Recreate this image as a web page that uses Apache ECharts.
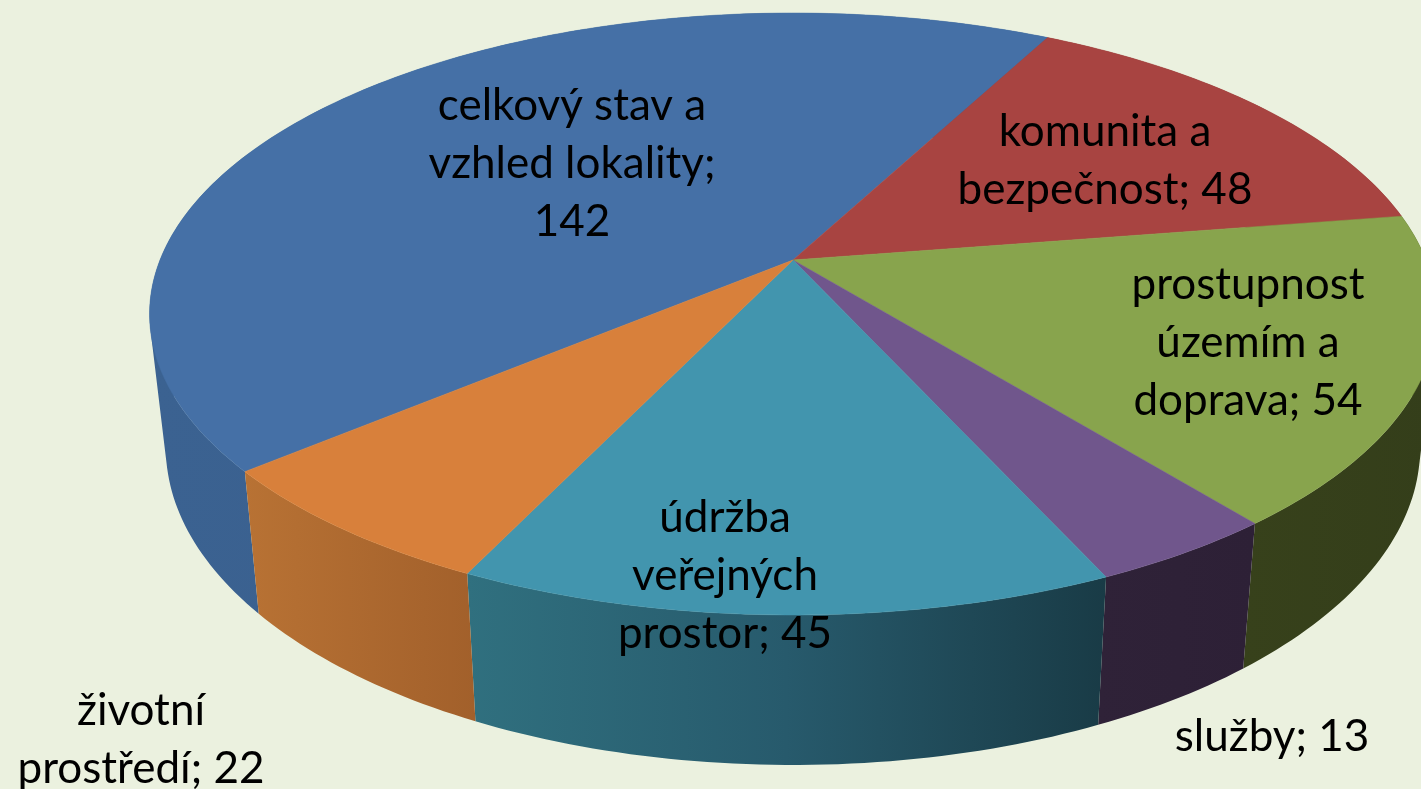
<!DOCTYPE html>
<html>
<head>
<meta charset="utf-8">
<style>
  html, body { margin: 0; padding: 0; background: #ebf1df; }
  #chart { width: 1421px; height: 789px; }
</style>
<script src="https://cdn.jsdelivr.net/npm/echarts@6/dist/echarts.min.js"></script>
</head>
<body>
<div id="chart"></div>
<script>
const categories = [
  'celkový stav a\nvzhled lokality',
  'komunita a\nbezpečnost',
  'prostupnost\núzemím a\ndoprava',
  'služby',
  'údržba\nveřejných\nprostor',
  'životní\nprostředí'
];
const values = [142, 48, 54, 13, 45, 22];
const topColors = ['#4570a6', '#a84441', '#88a44d', '#70568c', '#4295ae', '#d8803b'];
const sideStops = [
  ['#3b6291', '#385c8a'],
  ['#7a302e', '#7a302e'],
  ['#37411b', '#343e1a'],
  ['#2f2238', '#2d2036'],
  ['#30707f', '#275a6c', '#193b46'],
  ['#b87234', '#a2602b']
];
const labelCenters = [[572, 164], [1105, 161], [1248, 343], [1272, 737], [725, 576], [141, 740]];

// the pie is tilted, so the rim is a projected circle and not a plain ellipse
const perspective = 0.1794;
const topFace = { cx: 793, cy: 260, a: 633, b: 291.3 };
const bottomFace = { cx: 793, cy: 390.5, a: 617, b: 307.3 };
const startAngle = -130;
const total = values.reduce((s, v) => s + v, 0);

function project(face, deg) {
  const r = deg * Math.PI / 180;
  const w = 1 + perspective * Math.cos(r);
  return [face.cx + face.a * Math.sin(r) / w, face.cy - face.b * Math.cos(r) / w];
}

function sliceAngles(i) {
  let before = 0;
  for (let k = 0; k < i; k++) before += values[k];
  return [startAngle + before / total * 360, startAngle + (before + values[i]) / total * 360];
}

function arc(face, from, to) {
  const pts = [];
  const n = Math.ceil(to - from);
  for (let k = 0; k <= n; k++) pts.push(project(face, from + (to - from) * k / n));
  return pts;
}

function signedArea(q) {
  let s = 0;
  q.forEach((p, k) => {
    const n = q[(k + 1) % q.length];
    s += p[0] * n[1] - n[0] * p[1];
  });
  return s;
}

// side wall is one path of small quads, a plain outline would leave a notch at the silhouette.
// every quad gets the same winding or the nonzero fill cancels where the wall folds over
function renderSide(params) {
  const i = params.dataIndex;
  const [from, to] = sliceAngles(i);
  const upper = arc(topFace, from, to);
  const lower = arc(bottomFace, from, to);
  const xs = upper.concat(lower).map(p => p[0]);
  const stops = sideStops[i].map((c, k, all) => ({ offset: k / (all.length - 1), color: c }));
  let d = '';
  for (let k = 0; k < upper.length - 1; k++) {
    const q = [upper[k], upper[k + 1], lower[k + 1], lower[k]];
    if (signedArea(q) < 0) q.reverse();
    d += 'M' + q.map(p => p[0].toFixed(2) + ' ' + p[1].toFixed(2)).join('L') + 'Z';
  }
  return {
    type: 'path',
    shape: { pathData: d },
    style: {
      fill: new echarts.graphic.LinearGradient(Math.min(...xs), 0, Math.max(...xs), 0, stops, true)
    }
  };
}

function renderTop(params) {
  const i = params.dataIndex;
  const [from, to] = sliceAngles(i);
  return {
    type: 'polygon',
    shape: { points: [[topFace.cx, topFace.cy]].concat(arc(topFace, from, to)) },
    style: { fill: topColors[i], stroke: topColors[i], lineWidth: 0.5 }
  };
}

function renderLabel(params, api) {
  const i = params.dataIndex;
  const sep = i === 0 ? ';\n' : '; ';
  return {
    type: 'text',
    style: {
      x: labelCenters[i][0],
      y: labelCenters[i][1],
      text: categories[i] + sep + api.value(0),
      fill: '#000',
      font: '44px Lato',
      lineHeight: 58,
      align: 'center',
      verticalAlign: 'middle'
    }
  };
}

const chart = echarts.init(document.getElementById('chart'));
chart.setOption({
  backgroundColor: '#ebf1df',
  animation: false,
  series: [
    { type: 'custom', coordinateSystem: 'none', z: 1, silent: true, data: values, renderItem: renderSide },
    { type: 'custom', coordinateSystem: 'none', z: 2, silent: true, data: values, renderItem: renderTop },
    { type: 'custom', coordinateSystem: 'none', z: 3, silent: true, data: values, renderItem: renderLabel }
  ]
});
</script>
</body>
</html>
